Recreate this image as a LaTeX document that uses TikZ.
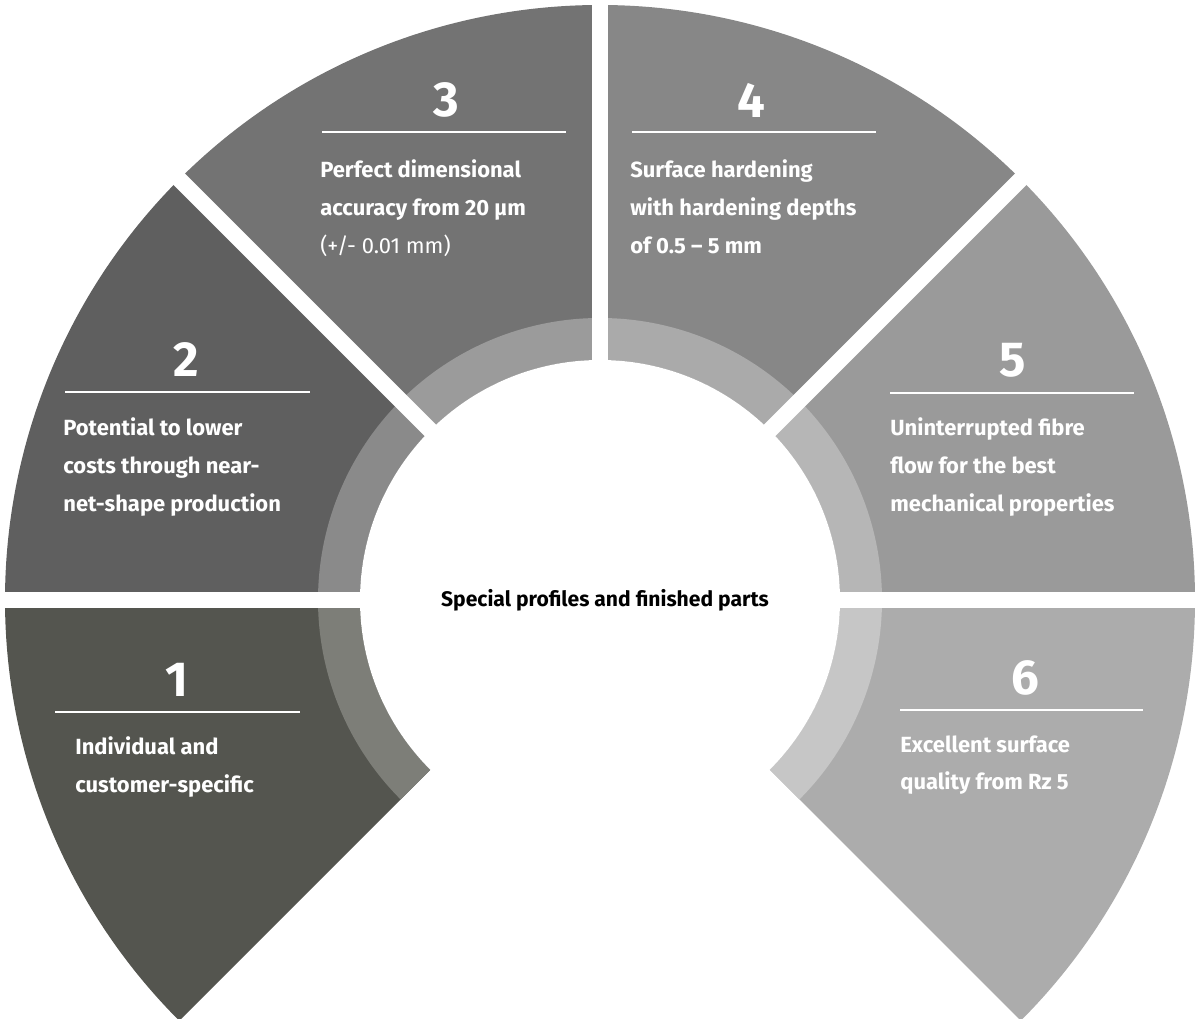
\documentclass[tikz,border=0pt]{standalone}
\usepackage{fontspec}
\setmainfont{Fira Sans}
\usetikzlibrary{calc}
\begin{document}
\begin{tikzpicture}[x=0.02cm,y=0.02cm,
 num/.style={font=\fontsize{28}{30}\selectfont\bfseries,text=white,inner sep=0},
 body/.style={font=\fontsize{12.5}{21.6}\selectfont\bfseries,text=white,anchor=north west,inner sep=0,align=left},
 rule/.style={white,line width=1.2pt}]
\useasboundingbox (0,0) rectangle (1200,1018);
\coordinate (C) at (600,418);
\def\R{595}\def\ro{282}\def\ri{240}
\foreach \a/\b/\c/\d in {180/225/54554F/7D7E78,135/180/5F5F5F/8A8A8A,90/135/737373/9B9B9B,45/90/878787/AAAAAA,0/45/9A9A9A/B6B6B6,-45/0/ACACAC/C6C6C6}{
 \definecolor{sc}{HTML}{\c}\definecolor{rc}{HTML}{\d}
 \fill[sc] (C) -- ++(\a:\R) arc (\a:\b:\R) -- cycle;
 \fill[rc] ($(C)+(\a:\ro)$) arc (\a:\b:\ro) -- ($(C)+(\b:\ri)$) arc (\b:\a:\ri) -- cycle;
}
\fill[white] (C) circle (\ri);
\foreach \a in {0,45,90,135,180}{\draw[white,line width=16*0.02cm] (C) -- ++(\a:610);}
\node[font=\fontsize{12}{14}\selectfont\bfseries,inner sep=0] (ct) at (605,418) {Special profiles and finished parts};
% 1
\node[num] (n1) at (177,338) {1};
\draw[rule] (55,306) -- (300,306);
\node[body] (t1) at (75,282) {Individual and\\customer-specific};
% 2
\node[num] (n2) at (186,658) {2};
\draw[rule] (65,626) -- (310,626);
\node[body] (t2) at (63,601) {Potential to lower\\costs through near-\\net-shape production};
% 3
\node[num] (n3) at (446,918) {3};
\draw[rule] (322,886) -- (566,886);
\node[body] (t3) at (320,859) {Perfect dimensional\\accuracy from 20 µm\\{\mdseries (+/- 0.01 mm)}};
% 4
\node[num] (n4) at (751,918) {4};
\draw[rule] (632,886) -- (876,886);
\node[body] (t4) at (630,859) {Surface hardening\\with hardening depths\\of 0.5 – 5 mm};
% 5
\node[num] (n5) at (1013,658) {5};
\draw[rule] (890,625) -- (1134,625);
\node[body] (t5) at (890,601) {Uninterrupted fibre\\flow for the best\\mechanical properties};
% 6
\node[num] (n6) at (1025,340) {6};
\draw[rule] (900,308) -- (1143,308);
\node[body] (t6) at (900,283) {Excellent surface\\quality from Rz 5};
\end{tikzpicture}
\end{document}
